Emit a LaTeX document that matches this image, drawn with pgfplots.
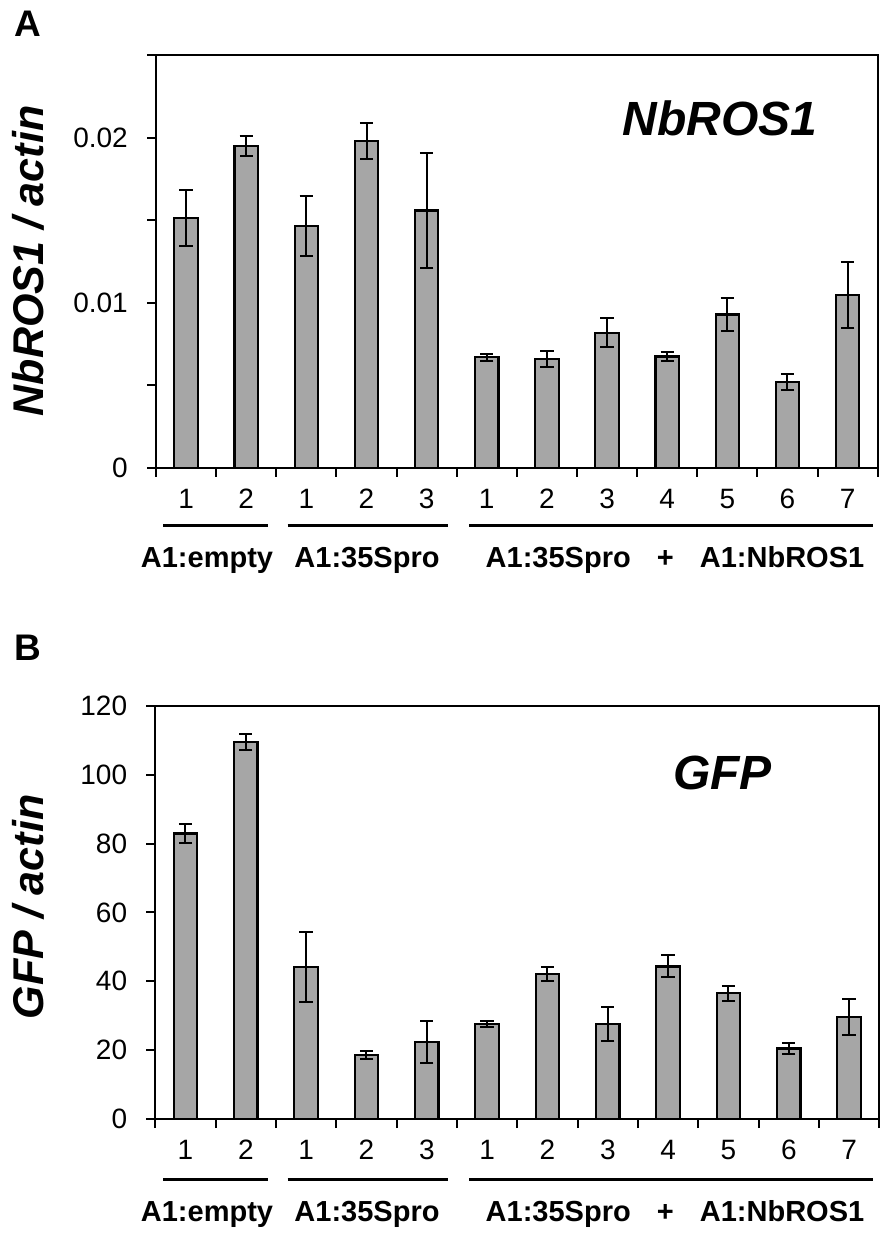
\documentclass[border=0pt]{standalone}
\usepackage{fontspec}
\setmainfont{Liberation Sans}
\usepackage{pgfplots}
\usepackage{pgfplotstable}
\pgfplotsset{compat=1.18}
\definecolor{barg}{RGB}{166,166,166}
\newcommand\tickf{\fontsize{28}{32}\selectfont}
\newcommand\grpf{\fontsize{29}{34}\selectfont\bfseries}
\newcommand\ylabf{\fontsize{43}{50}\selectfont\bfseries\itshape}
\newcommand\ttlf{\fontsize{48}{56}\selectfont\bfseries\itshape}
\newcommand\panf{\fontsize{37}{44}\selectfont\bfseries}

\pgfplotstableread{
x y e
0 0.01515 0.0017
1 0.0195 0.0006
2 0.01465 0.0018
3 0.0198 0.0011
4 0.0156 0.0035
5 0.0067 0.0002
6 0.0066 0.0005
7 0.0082 0.0009
8 0.00675 0.00025
9 0.0093 0.001
10 0.0052 0.0005
11 0.0105 0.002
}\tabA
\pgfplotstableread{
x y e
0 82.9 2.7
1 109.6 2.3
2 44.1 10.1
3 18.6 1.1
4 22.4 6.0
5 27.5 0.9
6 42.1 2.1
7 27.6 4.9
8 44.3 3.2
9 36.5 2.2
10 20.5 1.5
11 29.6 5.2
}\tabB

\pgfplotsset{
  myax/.style={
    scale only axis,
    xmin=-0.5, xmax=11.5,
    xtick={-0.5,0.5,...,11.5},
    xticklabels={},
    extra x ticks={0,...,11},
    extra x tick labels={1,2,1,2,3,1,2,3,4,5,6,7},
    extra x tick style={tick style={draw=none}},
    tick align=outside,
    xtick pos=bottom, ytick pos=left,
    major tick length=9pt, minor tick length=9pt,
    axis line style={line width=2pt},
    tick style={black, line width=2pt},
    ticklabel style={font=\tickf, inner sep=0pt},
    xticklabel style={anchor=north, yshift=-12pt},
    yticklabel style={anchor=east, xshift=-19pt},
    scaled y ticks=false,
    ybar, bar width=23.5pt,
  },
  mybar/.style={fill=barg, draw=black, line width=2.2pt,
    error bars/.cd, y dir=both, y explicit,
    error bar style={line width=2pt, black},
    error mark options={rotate=90, mark size=6.65pt, line width=2pt, black}},
}

\begin{document}
\begin{tikzpicture}
\useasboundingbox (0,0) rectangle (892pt,-1246pt);

% Panel A
\begin{axis}[myax,
  at={(156pt,-467.9pt)}, anchor=south west,
  width=721.7pt, height=412.5pt,
  ymin=0, ymax=0.025,
  ytick={0,0.01,0.02}, yticklabels={0,0.01,0.02},
  minor ytick={0.005,0.015,0.025},
]
\addplot[mybar] table[x=x, y=y, y error=e] {\tabA};
\end{axis}

% Panel B
\begin{axis}[myax,
  at={(155.3pt,-1119pt)}, anchor=south west,
  width=724pt, height=413.2pt,
  ymin=0, ymax=120,
  ytick={0,20,...,120}, yticklabels={0,20,40,60,80,100,120},
]
\addplot[mybar] table[x=x, y=y, y error=e] {\tabB};
\end{axis}

% panel letters
\node[font=\panf, anchor=base west, inner sep=0pt] at (14pt,-37pt) {A};
\node[font=\panf, anchor=base west, inner sep=0pt] at (14pt,-660pt) {B};

% y labels
\node[font=\ylabf, rotate=90, anchor=base, inner sep=0pt] at (43pt,-261pt) {NbROS1 / actin};
\node[font=\ylabf, rotate=90, anchor=base, inner sep=0pt] at (43pt,-907pt) {GFP / actin};

% inner titles
\node[font=\ttlf, anchor=base, inner sep=0pt] at (719.7pt,-135.7pt) {NbROS1};
\node[font=\ttlf, anchor=base, inner sep=0pt] at (722.5pt,-789.7pt) {GFP};

% group lines and labels
\foreach \yl/\yt in {525/567.3, 1179/1221} {
  \draw[line width=3pt] (163.3pt,-\yl pt) -- (268.3pt,-\yl pt);
  \draw[line width=3pt] (287.7pt,-\yl pt) -- (448.3pt,-\yl pt);
  \draw[line width=3pt] (469.3pt,-\yl pt) -- (873.3pt,-\yl pt);
  \node[font=\grpf, anchor=base, inner sep=0pt] at (207pt,-\yt pt) {A1:empty};
  \node[font=\grpf, anchor=base, inner sep=0pt] at (367pt,-\yt pt) {A1:35Spro};
  \node[font=\grpf, anchor=base, inner sep=0pt] at (675pt,-\yt pt) {A1:35Spro\hspace{0.9em}+\hspace{0.9em}A1:NbROS1};
}
\end{tikzpicture}
\end{document}
